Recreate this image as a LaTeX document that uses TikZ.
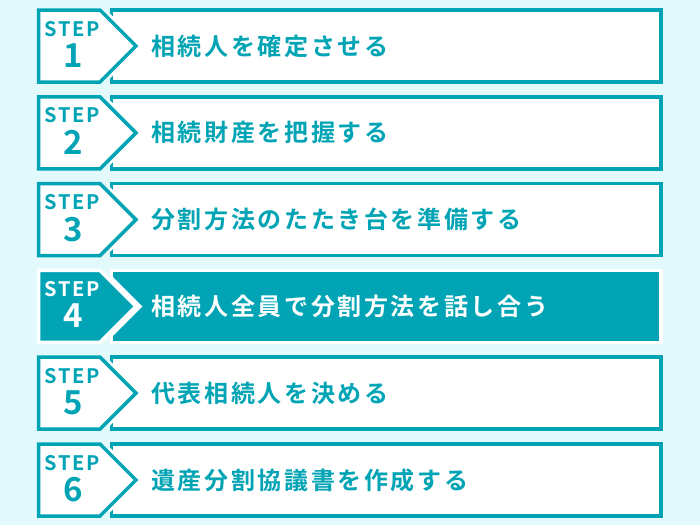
\documentclass[tikz,border=0pt]{standalone}
\usepackage{fontspec}
\newfontfamily\jpfont[LetterSpace=11]{Noto Sans CJK JP Bold}
\newfontfamily\stepfont[LetterSpace=8]{Noto Sans CJK JP Bold}
\newfontfamily\numfont{Noto Sans CJK JP Bold}
\definecolor{stepteal}{HTML}{00A4B4}
\definecolor{stepbg}{HTML}{E2FAFC}

\begin{document}
\begin{tikzpicture}[x=1pt,y=-1pt,
    frame/.style={line width=3.5pt,line join=miter},
    steplabel/.style={inner sep=0pt,anchor=base,font=\stepfont\fontsize{20}{20}\selectfont},
    stepnum/.style={inner sep=0pt,anchor=base,font=\numfont\fontsize{33}{33}\selectfont},
    steptext/.style={inner sep=0pt,anchor=west,font=\jpfont\fontsize{24}{24}\selectfont}]
    \fill[stepbg] (0,0) rectangle (700,525);
    \foreach \i/\txt in {1/相続人を確定させる,2/相続財産を把握する,3/分割方法のたたき台を準備する,
        4/相続人全員で分割方法を話し合う,5/代表相続人を決める,6/遺産分割協議書を作成する}{
        \pgfmathsetmacro\rowy{8+86.8*(\i-1)}
        \ifnum\i=4 \def\fg{white}\def\bg{stepteal}\else\def\fg{stepteal}\def\bg{white}\fi
        % box
        \draw[frame,draw=\fg,fill=\bg] (111.5,\rowy+2) rectangle (661,\rowy+74);
        % tag with white rim
        \begin{scope}
            \clip (109.75,\rowy+0.25) rectangle (662.75,\rowy+75.75);
            \draw[line width=9pt,white,line join=miter] (38.5,\rowy+2) -- (100,\rowy+2)
                -- (136,\rowy+38) -- (100,\rowy+74) -- (38.5,\rowy+74) -- cycle;
        \end{scope}
        \draw[frame,draw=\fg,fill=\bg] (38.5,\rowy+2) -- (100,\rowy+2)
            -- (136,\rowy+38) -- (100,\rowy+74) -- (38.5,\rowy+74) -- cycle;
        \node[steplabel,text=\fg] (step\i) at (72,\rowy+28) {STEP};
        \node[stepnum,text=\fg] (num\i) at (73,\rowy+59.5) {\i};
        \node[steptext,text=\fg] (txt\i) at (151,\rowy+38) {\txt};
    }
\end{tikzpicture}
\end{document}
